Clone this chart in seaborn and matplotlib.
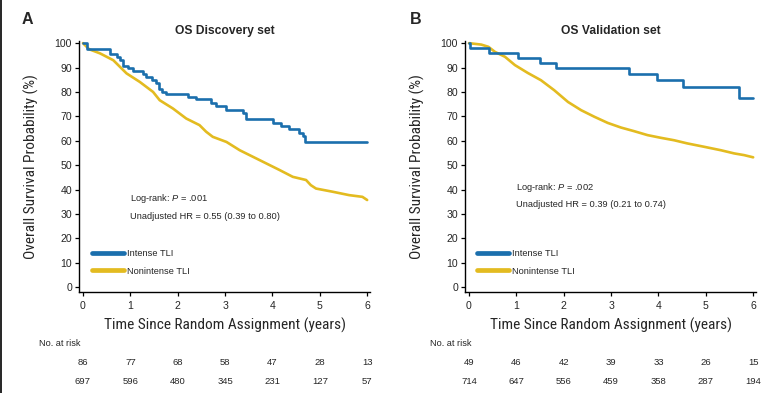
import numpy as np
import pandas as pd
import matplotlib
matplotlib.use("Agg")
import matplotlib.pyplot as plt
import seaborn as sns
from matplotlib.lines import Line2D
from matplotlib import font_manager

# ---------------- data ----------------
# Panel A (Discovery)
a_int_t = [0.00, 0.09, 0.57, 0.71, 0.78, 0.85, 0.95, 1.05, 1.27, 1.34, 1.45, 1.55, 1.61, 1.66, 1.75,
           2.22, 2.39, 2.71, 2.81, 3.03, 3.37, 3.45, 4.01, 4.18, 4.36, 4.57, 4.64, 4.69, 6.00]
a_int_s = [100.0, 97.7, 95.5, 94.2, 92.9, 90.7, 89.8, 88.5, 87.3, 86.0, 84.8, 83.5, 81.4, 80.1, 79.0,
           78.0, 76.9, 75.3, 74.2, 72.8, 71.2, 69.1, 67.3, 66.0, 65.0, 63.2, 61.9, 59.5, 59.5]
a_non_t = [0.00, 0.13, 0.36, 0.64, 0.78, 0.92, 1.20, 1.48, 1.62, 1.90, 2.18, 2.46, 2.60, 2.74, 3.03,
           3.31, 3.59, 3.87, 4.15, 4.43, 4.71, 4.81, 4.92, 5.27, 5.62, 5.90, 6.00]
a_non_s = [100.0, 97.5, 95.8, 93.0, 90.3, 87.6, 84.1, 80.0, 76.6, 73.2, 69.1, 66.4, 63.7, 61.6, 59.5,
           56.1, 53.4, 50.7, 48.0, 45.2, 43.9, 41.8, 40.4, 39.1, 37.7, 37.0, 35.7]
# Panel B (Validation)
b_int_t = [0.00, 0.03, 0.42, 1.03, 1.49, 1.84, 3.38, 3.97, 4.52, 5.70, 6.00]
b_int_s = [100.0, 98.0, 95.9, 93.9, 91.8, 89.8, 87.5, 85.0, 82.0, 77.5, 77.5]
b_non_t = [0.00, 0.26, 0.41, 0.55, 0.76, 0.97, 1.24, 1.52, 1.80, 2.09, 2.37, 2.65, 2.93, 3.21, 3.49,
           3.77, 4.05, 4.33, 4.61, 4.97, 5.32, 5.60, 5.81, 6.00]
b_non_s = [100.0, 99.4, 98.5, 96.4, 94.4, 91.0, 87.8, 84.8, 80.7, 75.9, 72.5, 69.8, 67.3, 65.4, 63.9,
           62.3, 61.2, 60.2, 58.9, 57.5, 56.1, 54.8, 54.1, 53.2]

risk_times = [0, 1, 2, 3, 4, 5, 6]
a_risk_int = [86, 77, 68, 58, 47, 28, 13]
a_risk_non = [697, 596, 480, 345, 231, 127, 57]
b_risk_int = [49, 46, 42, 39, 33, 26, 15]
b_risk_non = [714, 647, 556, 459, 358, 287, 194]

titles = ["OS Discovery set", "OS Validation set"]
letters = ["A", "B"]
logrank = [".001", ".002"]
hr_text = ["Unadjusted HR = 0.55 (0.39 to 0.80)", "Unadjusted HR = 0.39 (0.21 to 0.74)"]
series_names = ["Intense TLI", "Nonintense TLI"]

BLUE = "#1b6fad"
YELLOW = "#e3bb20"

# ---------------- style ----------------
sns.set_style("ticks")
plt.rcParams["font.family"] = ["Liberation Sans", "DejaVu Sans"]
plt.rcParams["mathtext.fontset"] = "custom"
plt.rcParams["mathtext.rm"] = "Liberation Sans"
plt.rcParams["mathtext.it"] = "Liberation Sans:italic"

# narrow font for axis labels if available, else smaller regular font
_names = {f.name for f in font_manager.fontManager.ttflist}
label_font = {"family": ["Liberation Sans", "DejaVu Sans"], "size": 9.9}
for cand in ["Liberation Sans Narrow", "Arial Narrow", "Roboto Condensed", "Open Sans Condensed"]:
    if cand in _names:
        label_font = {"family": [cand, "DejaVu Sans"], "size": 11.1}
        break

W, H = 776, 393
fig = plt.figure(figsize=(W / 100, H / 100), dpi=100)

ax_w = 291 / W
ax_h = 251.3 / H
ax_b = 101 / H
lefts = [79 / W, 465 / W]

panels = [
    (a_int_t, a_int_s, a_non_t, a_non_s, a_risk_int, a_risk_non),
    (b_int_t, b_int_s, b_non_t, b_non_s, b_risk_int, b_risk_non),
]
text_pos = [((1.0, 36.2), (1.0, 29.0)), ((0.99, 41.0), (0.99, 34.0))]
legend_x = [0.046, 0.041]
risk_label_x = [-0.93, -0.83]
letter_x = [22, 410]

for i, (it, isv, nt, nsv, rint, rnon) in enumerate(panels):
    ax = fig.add_axes([lefts[i], ax_b, ax_w, ax_h])
    df_non = pd.DataFrame({"t": nt, "s": nsv})
    df_int = pd.DataFrame({"t": it, "s": isv})
    sns.lineplot(data=df_non, x="t", y="s", ax=ax, color=YELLOW, lw=1.9, estimator=None, sort=False)
    sns.lineplot(data=df_int, x="t", y="s", ax=ax, color=BLUE, lw=1.9, estimator=None, sort=False,
                 drawstyle="steps-post")
    ax.set_xlim(-0.084, 6.06)
    ax.set_ylim(-2, 101)
    ax.set_xticks(risk_times)
    ax.set_yticks(range(0, 101, 10))
    sns.despine(ax=ax)
    for sp in ["left", "bottom"]:
        ax.spines[sp].set_linewidth(1.0)
        ax.spines[sp].set_color("black")
    ax.tick_params(axis="both", labelsize=7.6, length=3, width=0.9, color="black")
    ax.tick_params(axis="x", pad=3.5)
    ax.tick_params(axis="y", pad=2)
    ax.set_xlabel("Time Since Random Assignment (years)", fontdict=label_font, labelpad=5)
    ax.set_ylabel("Overall Survival Probability (%)", fontdict=label_font, labelpad=11)
    ax.set_title(titles[i], fontsize=8.7, fontweight="bold", pad=5)

    (x1, y1), (x2, y2) = text_pos[i]
    ax.text(x1, y1, r"Log-rank: $\mathit{P}$ = " + logrank[i], fontsize=6.7, va="center", ha="left")
    ax.text(x2, y2, hr_text[i], fontsize=6.7, va="center", ha="left")

    handles = [Line2D([], [], color=BLUE, lw=3.4), Line2D([], [], color=YELLOW, lw=3.4)]
    ax.legend(handles, series_names, loc="upper left",
              bbox_to_anchor=(legend_x[i], 0.172), frameon=False, fontsize=6.7,
              handlelength=3.4, handletextpad=0.35, labelspacing=0.95, borderpad=0, borderaxespad=0)

    tr = ax.get_xaxis_transform()
    ax.text(risk_label_x[i], -0.203, "No. at risk", transform=tr, fontsize=6.6, ha="left", va="center")
    for t, v1, v2 in zip(risk_times, rint, rnon):
        ax.text(t, -0.2825, str(v1), transform=tr, fontsize=6.8, ha="center", va="center")
        ax.text(t, -0.358, str(v2), transform=tr, fontsize=6.8, ha="center", va="center")

    fig.text(letter_x[i] / W, 1 - 19 / H, letters[i], fontsize=11.5, fontweight="bold",
             ha="left", va="center")

fig.add_artist(Line2D([0.6 / W, 0.6 / W], [0, 1], color="black", lw=1.2, transform=fig.transFigure))

fig.savefig("out.png", dpi=100)
